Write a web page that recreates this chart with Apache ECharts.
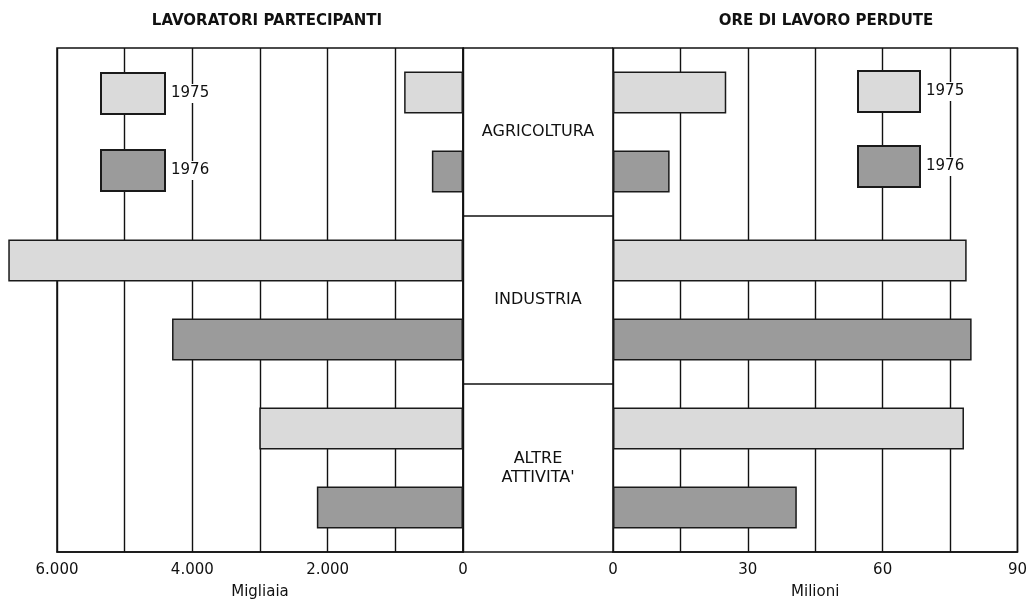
<!DOCTYPE html>
<html>
<head>
<meta charset="utf-8">
<script src="https://cdn.jsdelivr.net/npm/echarts@6/dist/echarts.min.js"></script>
<style>html,body{margin:0;padding:0;background:#fff;}#c{width:1030px;height:606px;}</style>
</head>
<body>
<div id="c"></div>
<script>
// Data
const categories = ['AGRICOLTURA', 'INDUSTRIA', "ALTRE\nATTIVITA'"];
const years = ['1975', '1976'];
// Lavoratori partecipanti (migliaia)
const workers1975 = [870, 6720, 3010];
const workers1976 = [460, 4300, 2160];
// Ore di lavoro perdute (milioni)
const hours1975 = [25.2, 78.7, 78.1];
const hours1976 = [12.6, 79.8, 40.9];
const leftTitle = 'LAVORATORI PARTECIPANTI';
const rightTitle = 'ORE DI LAVORO PERDUTE';
const leftUnit = 'Migliaia';
const rightUnit = 'Milioni';

const FONT = '"DejaVu Sans", "Liberation Sans", Arial, sans-serif';
const LIGHT = '#dadada';
const DARK = '#9b9b9b';
const EDGE = '#1a1a1a';
const INK = '#111';

const chart = echarts.init(document.getElementById('c'), null, {renderer: 'canvas'});

function fmtThousands(v) {
  return String(v).replace(/\B(?=(\d{3})+(?!\d))/g, '.');
}

const gridTop = 48, gridBottom = 54;

function barSeries(name, data, xi, color, clip) {
  return {
    type: 'bar', name: name, data: data,
    xAxisIndex: xi, yAxisIndex: xi,
    barWidth: 42, barGap: '88%',
    clip: clip,
    itemStyle: {color: color, borderColor: EDGE, borderWidth: 1.5},
    emphasis: {disabled: true},
    z: 3
  };
}

const legendText = {fontFamily: FONT, fontSize: 15, color: INK, backgroundColor: '#fff', padding: [2, 1]};

const option = {
  backgroundColor: '#ffffff',
  animation: false,
  textStyle: {fontFamily: FONT},
  title: [
    {text: leftTitle, left: 262, top: 9, textAlign: 'center',
     textStyle: {fontFamily: FONT, fontSize: 15, fontWeight: 'bold', color: INK}},
    {text: rightTitle, left: 821, top: 9, textAlign: 'center',
     textStyle: {fontFamily: FONT, fontSize: 15, fontWeight: 'bold', color: INK}}
  ],
  legend: [
    {left: 100, top: 72, padding: 0, orient: 'vertical', itemWidth: 64, itemHeight: 41, itemGap: 34,
     icon: 'rect', selectedMode: false, data: years, textStyle: legendText},
    {left: 857, top: 70, padding: 0, orient: 'vertical', itemWidth: 62, itemHeight: 41, itemGap: 32,
     icon: 'rect', selectedMode: false, data: years, textStyle: legendText}
  ],
  grid: [
    {left: 57, right: 567, top: gridTop, bottom: gridBottom, show: true, borderColor: INK, borderWidth: 1.5, backgroundColor: 'transparent'},
    {left: 613, right: 10, top: gridTop, bottom: gridBottom, show: true, borderColor: INK, borderWidth: 1.5, backgroundColor: 'transparent'},
    {left: 463, right: 417, top: gridTop, bottom: gridBottom}
  ],
  xAxis: [
    {gridIndex: 0, type: 'value', inverse: true, min: 0, max: 6000, interval: 1000,
     axisLine: {show: true, lineStyle: {color: INK, width: 1.5}}, axisTick: {show: false},
     splitLine: {show: true, lineStyle: {color: INK, width: 1.4}},
     axisLabel: {margin: 11, fontFamily: FONT, fontSize: 15, color: INK,
       formatter: v => (v % 2000 === 0 ? fmtThousands(v) : '')},
     name: leftUnit, nameLocation: 'middle', nameGap: 33,
     nameTextStyle: {fontFamily: FONT, fontSize: 15, color: INK}},
    {gridIndex: 1, type: 'value', min: 0, max: 90, interval: 15,
     axisLine: {show: true, lineStyle: {color: INK, width: 1.5}}, axisTick: {show: false},
     splitLine: {show: true, lineStyle: {color: INK, width: 1.4}},
     axisLabel: {margin: 11, fontFamily: FONT, fontSize: 15, color: INK,
       formatter: v => (v % 30 === 0 ? String(v) : '')},
     name: rightUnit, nameLocation: 'middle', nameGap: 33,
     nameTextStyle: {fontFamily: FONT, fontSize: 15, color: INK}},
    {gridIndex: 2, type: 'value', min: 0, max: 1, show: false}
  ],
  yAxis: [
    {gridIndex: 0, type: 'category', data: categories, inverse: true,
     axisLine: {show: false}, axisTick: {show: false}, axisLabel: {show: false}},
    {gridIndex: 1, type: 'category', data: categories, inverse: true,
     axisLine: {show: false}, axisTick: {show: false}, axisLabel: {show: false}},
    {gridIndex: 2, type: 'category', data: categories, inverse: true,
     axisLine: {show: true, lineStyle: {color: INK, width: 1.5}}, axisTick: {show: false},
     splitLine: {show: true, lineStyle: {color: INK, width: 1.5}},
     axisLabel: {inside: true, margin: 75, align: 'center', fontFamily: FONT, fontSize: 16,
       color: INK, lineHeight: 19, padding: [12, 0, 0, 0]}}
  ],
  series: [
    barSeries(years[0], workers1975, 0, LIGHT, false),
    barSeries(years[1], workers1976, 0, DARK, false),
    barSeries(years[0], hours1975, 1, LIGHT, true),
    barSeries(years[1], hours1976, 1, DARK, true)
  ]
};
chart.setOption(option);
</script>
</body>
</html>
